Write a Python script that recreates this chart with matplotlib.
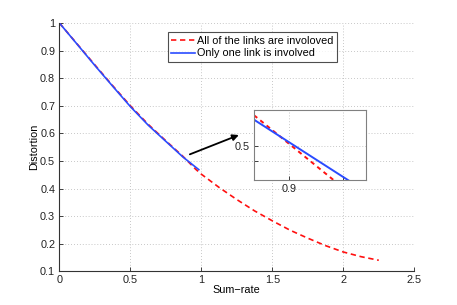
import matplotlib
matplotlib.use("Agg")
import matplotlib.pyplot as plt
import numpy as np

plt.rcParams['font.family'] = ['Liberation Sans', 'DejaVu Sans']
plt.rcParams['font.size'] = 7.8

rate_all = [0, 0.125, 0.25, 0.375, 0.5, 0.625, 0.75, 0.87, 0.90, 0.93, 0.96,
            1.0, 1.125, 1.25, 1.375, 1.5, 1.625, 1.75, 1.875, 2.0, 2.125, 2.25]
dist_all = [1.0, 0.924, 0.848, 0.773, 0.700, 0.633, 0.573, 0.5168, 0.5012,
            0.4856, 0.4700, 0.452, 0.404, 0.360, 0.319, 0.283, 0.249, 0.220,
            0.193, 0.170, 0.153, 0.140]
rate_one = [0, 0.125, 0.25, 0.375, 0.5, 0.625, 0.75, 0.87, 0.90, 0.93, 0.96, 0.982]
dist_one = [1.0, 0.923, 0.846, 0.771, 0.697, 0.630, 0.571, 0.5144, 0.5021,
            0.4898, 0.4775, 0.4685]

label_all = "All of the links are involoved"
label_one = "Only one link is involved"

red = "#ff1010"
blue = "#2a4bff"

def style_axes(ax, edge):
    ax.tick_params(direction="in", length=3, width=0.6, colors="#222222",
                   labelsize=7.8, pad=3)
    for s in ax.spines.values():
        s.set_color(edge)
        s.set_linewidth(0.8)
    ax.grid(True, linestyle=(0, (1, 2.5)), color="#b5b5b5", linewidth=0.6)

fig = plt.figure(figsize=(4.57, 3.05), dpi=100)
ax = fig.add_axes([0.130, 0.1105, 0.7765, 0.814])

ax.plot(rate_all, dist_all, color=red, lw=1.2, dashes=(3.2, 2.2), label=label_all)
ax.plot(rate_one, dist_one, color=blue, lw=1.2, label=label_one)

ax.set_xlim(0, 2.5)
ax.set_ylim(0.1, 1.0)
ax.set_xticks([0, 0.5, 1, 1.5, 2, 2.5])
ax.set_xticklabels(["0", "0.5", "1", "1.5", "2", "2.5"])
ax.set_yticks(np.arange(1, 11) / 10)
ax.set_yticklabels(["0.1", "0.2", "0.3", "0.4", "0.5", "0.6", "0.7", "0.8", "0.9", "1"])
ax.spines["top"].set_visible(False)
ax.spines["right"].set_visible(False)
style_axes(ax, "#333333")
ax.set_xlabel("Sum\u2212rate", fontsize=7.8, labelpad=0)
ax.set_ylabel("Distortion", fontsize=7.8, labelpad=0.5)

leg = ax.legend(loc="upper left", bbox_to_anchor=(0.305, 0.962), fontsize=7.8,
                frameon=True, fancybox=False, handlelength=2.2, handletextpad=0.2,
                borderpad=0.3, labelspacing=0.25, borderaxespad=0)
leg.get_frame().set_edgecolor("#222222")
leg.get_frame().set_linewidth(0.8)

ax.annotate("", xy=(1.264, 0.594), xytext=(0.919, 0.524),
            arrowprops=dict(arrowstyle="-|>", color="black", lw=1.3,
                            mutation_scale=9, shrinkA=0, shrinkB=0))

# zoomed inset
ins = fig.add_axes([0.5565, 0.4098, 0.2444, 0.2295])
ins.plot(rate_all, dist_all, color=red, lw=1.4, dashes=(2.2, 2.0))
ins.plot(rate_one, dist_one, color=blue, lw=1.4)
ins.set_xlim(0.8689, 0.9689)
ins.set_ylim(0.4805, 0.5205)
ins.set_xticks([0.9, 0.9486])
ins.set_xticklabels(["0.9", ""])
ins.set_yticks([0.4913, 0.5])
ins.set_yticklabels(["", "0.5"])
style_axes(ins, "#808080")

fig.savefig("out.png", dpi=100)
